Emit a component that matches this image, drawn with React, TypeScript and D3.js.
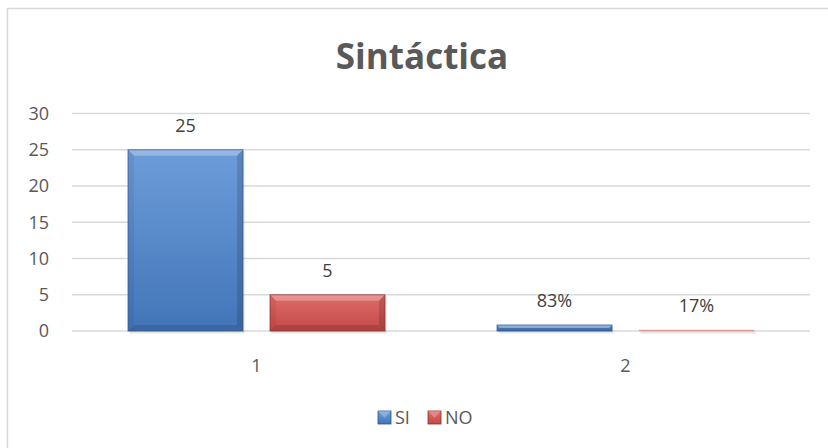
import React from "react";
import * as d3 from "d3";

const categories = ["1", "2"];
const seriesNames = ["SI", "NO"];
const siValues = [25, 0.83];
const noValues = [5, 0.17];
const siLabels = ["25", "83%"];
const noLabels = ["5", "17%"];
const yTicks = [0, 5, 10, 15, 20, 25, 30];
const title = "Sintáctica";

const W = 828;
const H = 448;
const FONT = "'Open Sans', sans-serif";
const colors = [
  { light: "#6d9cd9", dark: "#4275b8", edge: "#2f5487" },
  { light: "#de6b68", dark: "#c34a47", edge: "#8a2f2d" },
];

function Bar({ x, y, w, h, c, id }: any) {
  const b = Math.max(0, Math.min(6, h / 2, w / 2));
  const big = h > 3;
  return (
    <g>
      <rect x={x + 1.5} y={y + 1.5} width={w} height={h + 1} fill="#000" opacity={0.1} />
      <rect x={x} y={y} width={w} height={h} fill={`url(#g${id})`} opacity={big ? 1 : 0.55} />
      {big && (
        <>
          <polygon points={`${x},${y} ${x + w},${y} ${x + w - b},${y + b} ${x + b},${y + b}`} fill="#fff" opacity={0.28} />
          <polygon points={`${x},${y + h} ${x + w},${y + h} ${x + w - b},${y + h - b} ${x + b},${y + h - b}`} fill="#000" opacity={0.12} />
          <polygon points={`${x},${y} ${x + b},${y + b} ${x + b},${y + h - b} ${x},${y + h}`} fill="#000" opacity={0.06} />
          <polygon points={`${x + w},${y} ${x + w - b},${y + b} ${x + w - b},${y + h - b} ${x + w},${y + h}`} fill="#000" opacity={0.14} />
          <rect x={x} y={y} width={w} height={h} fill="none" stroke={c.edge} strokeWidth={1} opacity={0.7} />
        </>
      )}
    </g>
  );
}

export default function App() {
  const x0 = d3.scaleBand<string>().domain(categories).range([72, 810]).paddingInner(0.3035).paddingOuter(0.15175);
  const x1 = d3.scaleBand<string>().domain(seriesNames).range([0, x0.bandwidth()]).paddingInner(0.19).paddingOuter(0);
  const y = d3.scaleLinear().domain([0, 30]).range([331, 113.5]);
  const series = [siValues, noValues];
  const labels = [siLabels, noLabels];

  return (
    <svg width={W} height={H} style={{ position: "absolute", left: 0, top: 0, background: "#fff" }}>
      <defs>
        {colors.map((c, i) => (
          <linearGradient key={i} id={`g${i}`} x1="0" y1="0" x2="0" y2="1">
            <stop offset="0" stopColor={c.light} />
            <stop offset="1" stopColor={c.dark} />
          </linearGradient>
        ))}
      </defs>
      <rect x={0} y={0} width={W} height={H} fill="#fff" />
      <rect x={7.5} y={8.5} width={W + 10} height={H + 10} fill="#fff" stroke="#d9d9d9" strokeWidth={1.5} />
      <text x={422} y={69} textAnchor="middle" fontFamily={FONT} fontWeight={700} fontSize={35} fill="#595959">
        {title}
      </text>
      {yTicks.map((t) => (
        <g key={t}>
          <line x1={72} x2={810} y1={y(t)} y2={y(t)} stroke="#d9d9d9" strokeWidth={1.5} />
          <text x={49} y={y(t)} dy="0.35em" textAnchor="end" fontFamily={FONT} fontSize={18} fill="#595959">
            {t}
          </text>
        </g>
      ))}
      {categories.map((cat, ci) => (
        <g key={cat}>
          {seriesNames.map((s, si) => {
            const v = series[si][ci];
            const bx = (x0(cat) as number) + (x1(s) as number);
            const bw = x1.bandwidth();
            const top = y(v);
            return (
              <g key={s}>
                <Bar x={bx} y={top} w={bw} h={y(0) - top} c={colors[si]} id={si} />
                <text x={bx + bw / 2} y={top - 18} textAnchor="middle" fontFamily={FONT} fontSize={18} fill="#404040">
                  {labels[si][ci]}
                </text>
              </g>
            );
          })}
          <text x={(x0(cat) as number) + x0.bandwidth() / 2} y={372} textAnchor="middle" fontFamily={FONT} fontSize={18} fill="#595959">
            {cat}
          </text>
        </g>
      ))}
      {seriesNames.map((s, i) => {
        const lx = [378, 428][i];
        return (
          <g key={s}>
            <rect x={lx} y={411} width={13} height={13} fill={`url(#g${i})`} stroke={colors[i].edge} strokeWidth={0.8} />
            <polygon points={`${lx},${411} ${lx + 13},${411} ${lx + 6.5},${418}`} fill="#fff" opacity={0.25} />
            <text x={lx + 17} y={424} fontFamily={FONT} fontSize={18} fill="#595959">
              {s}
            </text>
          </g>
        );
      })}
    </svg>
  );
}
